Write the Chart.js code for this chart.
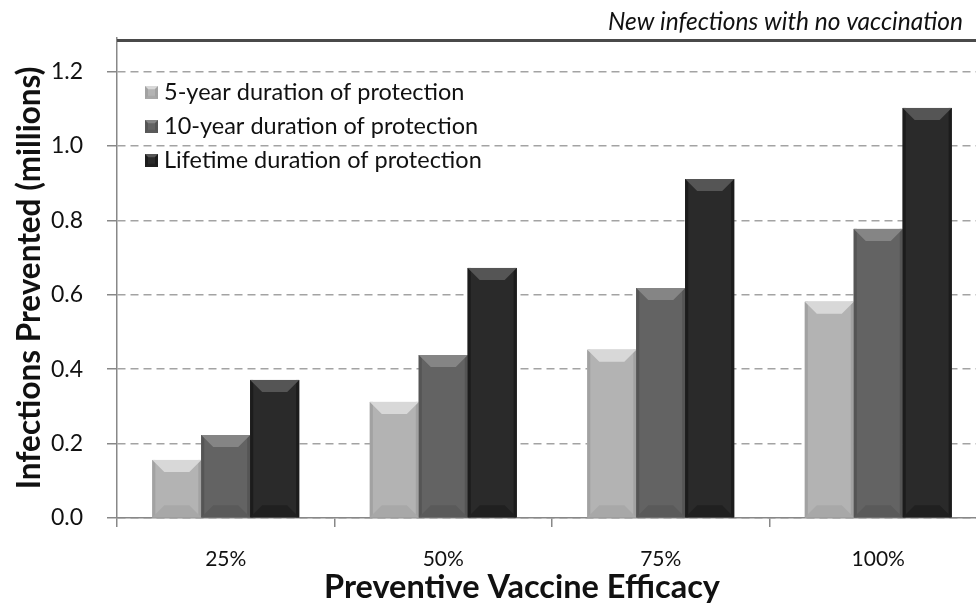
<!DOCTYPE html>
<html><head><meta charset="utf-8">
<script src="https://cdn.jsdelivr.net/npm/chart.js@4"></script>
<style>html,body{margin:0;padding:0;background:#fff;overflow:hidden;width:976px;height:606px}#wrap{width:987px;height:606px}</style>
</head><body><div id="wrap"><canvas id="c" width="987" height="606"></canvas></div>
<script>
const categories = ['25%', '50%', '75%', '100%'];
const fiveYear = [0.156, 0.312, 0.452, 0.581];
const tenYear = [0.223, 0.438, 0.618, 0.777];
const lifetime = [0.371, 0.672, 0.911, 1.102];
const seriesLabels = ['5-year duration of protection', '10-year duration of protection', 'Lifetime duration of protection'];
const yTicks = [0, 0.2, 0.4, 0.6, 0.8, 1.0, 1.2];
const noVaccinationLevel = 1.283;
const noVaccinationLabel = 'New infections with no vaccination';
const xTitle = 'Preventive Vaccine Efficacy';
const yTitle = 'Infections Prevented (millions)';

const FONT = 'Lato, "Open Sans", sans-serif';
const colors = ['#b3b3b3', '#636363', '#2a2a2a'];
const tops = ['#d8d8d8', '#858585', '#555555'];
const sides = ['#a2a2a2', '#555555', '#1c1c1c'];
const bottoms = ['#a8a8a8', '#5a5a5a', '#202020'];

function bevel(ctx, x0, x1, yTop, yBot, i) {
  const w = x1 - x0, h = yBot - yTop, b = Math.min(12, w / 4, h / 2);
  ctx.save();
  ctx.fillStyle = colors[i];
  ctx.fillRect(x0, yTop, w, h);
  ctx.fillStyle = sides[i];
  ctx.fillRect(x0, yTop, 3, h);
  ctx.fillRect(x1 - 3, yTop, 3, h);
  ctx.fillStyle = tops[i];
  ctx.beginPath();
  ctx.moveTo(x0, yTop); ctx.lineTo(x1, yTop); ctx.lineTo(x1 - b, yTop + b); ctx.lineTo(x0 + b, yTop + b); ctx.closePath(); ctx.fill();
  ctx.fillStyle = bottoms[i];
  ctx.beginPath();
  ctx.moveTo(x0, yBot); ctx.lineTo(x1, yBot); ctx.lineTo(x1 - b, yBot - b); ctx.lineTo(x0 + b, yBot - b); ctx.closePath(); ctx.fill();
  ctx.restore();
}

const decor = {
  id: 'decor',
  afterDatasetsDraw(chart) {
    const ctx = chart.ctx;
    chart.data.datasets.forEach((ds, i) => {
      chart.getDatasetMeta(i).data.forEach(bar => {
        const p = bar.getProps(['x', 'y', 'base', 'width'], true);
        bevel(ctx, p.x - p.width / 2, p.x + p.width / 2, p.y, p.base, i);
      });
    });
  },
  afterDraw(chart) {
    const ctx = chart.ctx, ca = chart.chartArea, ys = chart.scales.y;
    ctx.save();
    const yl = ys.getPixelForValue(noVaccinationLevel);
    ctx.strokeStyle = '#4a4a4a'; ctx.lineWidth = 3;
    ctx.beginPath(); ctx.moveTo(ca.left, yl); ctx.lineTo(ca.right, yl); ctx.stroke();
    ctx.fillStyle = '#111'; ctx.font = 'italic 24.5px ' + FONT;
    ctx.textAlign = 'right'; ctx.textBaseline = 'alphabetic';
    ctx.fillText(noVaccinationLabel, 963, 30);
    // legend
    ctx.font = '23.5px ' + FONT; ctx.textAlign = 'left'; ctx.textBaseline = 'middle';
    seriesLabels.forEach((l, i) => {
      const cy = 92 + i * 34;
      bevel(ctx, 145, 158, cy - 6, cy + 7, i);
      ctx.fillStyle = '#111';
      ctx.fillText(l, 164, cy);
    });
    // x title
    ctx.font = 'bold 32.5px ' + FONT; ctx.textAlign = 'center'; ctx.textBaseline = 'middle';
    ctx.fillText(xTitle, 522, 588);
    ctx.restore();
  }
};

new Chart(document.getElementById('c'), {
  type: 'bar',
  data: {
    labels: categories,
    datasets: [
      { label: seriesLabels[0], data: fiveYear, backgroundColor: colors[0] },
      { label: seriesLabels[1], data: tenYear, backgroundColor: colors[1] },
      { label: seriesLabels[2], data: lifetime, backgroundColor: colors[2] }
    ]
  },
  options: {
    responsive: false,
    animation: false,
    layout: { padding: { top: 38, left: 0, right: 0, bottom: 0 } },
    datasets: { bar: { barPercentage: 1, categoryPercentage: 0.675 } },
    plugins: { legend: { display: false }, tooltip: { enabled: false } },
    scales: {
      x: {
        afterFit(s) { s.height = 88; },
        grid: { drawOnChartArea: false, tickLength: 9, color: '#888', lineWidth: 1.5 },
        border: { color: '#888', width: 1.5 },
        ticks: { color: '#111', font: { family: FONT, size: 21 }, padding: 20 }
      },
      y: {
        min: 0, max: 1.29,
        afterFit(s) { s.width = 117; },
        afterBuildTicks(s) { s.ticks = yTicks.map(v => ({ value: v })); },
        grid: { color: '#a3a3a3', lineWidth: 1.5, tickLength: 10, tickColor: '#888', tickBorderDash: [] },
        border: { color: '#888', width: 1.5, dash: [8, 5] },
        ticks: { color: '#111', font: { family: FONT, size: 23 }, padding: 24, callback: v => Number(v).toFixed(1) },
        title: { display: true, text: yTitle, color: '#111', font: { family: FONT, size: 31.5, weight: 'bold' }, padding: { top: 11, bottom: 0 } }
      }
    }
  },
  plugins: [decor]
});
</script>
</body></html>
